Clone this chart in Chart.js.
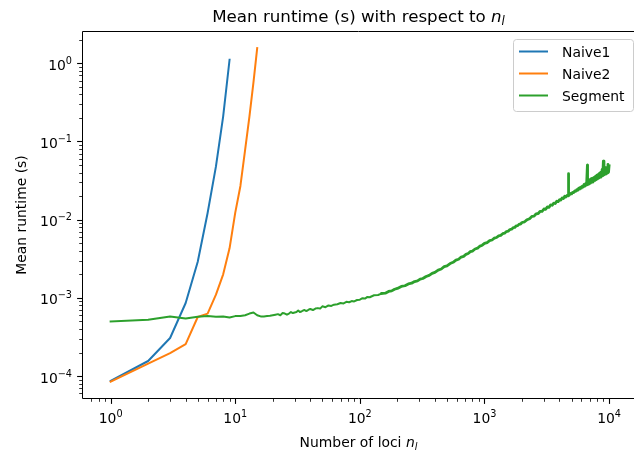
<!DOCTYPE html>
<html>
<head>
<meta charset="utf-8">
<script src="https://cdn.jsdelivr.net/npm/chart.js@4"></script>
<style>
  html, body { margin: 0; padding: 0; background: #fff; }
  #wrap { width: 634px; height: 452px; }
</style>
</head>
<body>
<div id="wrap"><canvas id="runtimeChart" width="634" height="452"></canvas></div>
<script>
// values
const naive1X = [1, 2, 3, 4, 5, 6, 7, 8, 9];
const naive1Y = [8.7e-5, 1.56e-4, 3.07e-4, 8.6e-4, 2.9e-3, 1.22e-2, 4.8e-2, 2.1e-1, 1.11];

const naive2X = [1, 2, 3, 4, 5, 6, 7, 8, 9, 10, 11, 12, 13, 14, 15];
const naive2Y = [8.5e-5, 1.44e-4, 1.97e-4, 2.57e-4, 5.7e-4, 6.3e-4, 1.1e-3, 2.0e-3, 4.3e-3,
                 1.23e-2, 2.7e-2, 7.8e-2, 2.1e-1, 5.7e-1, 1.56];

const segmentX = [
    1, 2, 3, 4, 5, 6, 7, 8, 9, 10, 11, 12, 13, 14, 15, 16, 17, 18, 19, 20,
    21, 22, 23, 24, 25, 26, 27, 28, 29, 30, 31, 32, 33, 34, 35, 36, 37, 38, 39, 40,
    42, 44, 46, 48, 50, 53, 56, 59, 62, 66, 70, 74, 78, 82, 86, 90, 95, 100,
    105, 110, 115, 120, 130, 140, 150, 160, 170, 180, 190, 200, 215, 230, 245, 260,
    275, 290, 305, 320, 340, 360, 380, 400, 425, 450, 475, 500, 530, 560, 590, 620,
    650, 680, 710, 740, 770, 800, 840, 880, 920, 960, 1000, 1050, 1100, 1150, 1200,
    1250, 1300, 1350, 1400, 1450, 1500, 1550, 1600, 1650, 1700, 1750, 1800, 1850,
    1900, 1950, 2000, 2100, 2200, 2300, 2400, 2500, 2600, 2700, 2800, 2900, 3000,
    3100, 3200, 3300, 3400, 3500, 3600, 3700, 3800, 3900, 4000, 4100, 4200, 4300,
    4400, 4500, 4600, 4700, 4720, 4740, 4800, 4900, 5000, 5100, 5200, 5300, 5400,
    5500, 5600, 5700, 5800, 5900, 6000, 6100, 6200, 6300, 6400, 6500, 6600, 6700,
    6720, 6800, 6900, 7000, 7100, 7200, 7300, 7400, 7500, 7600, 7700, 7800, 7900,
    8000, 8100, 8200, 8300, 8400, 8500, 8600, 8700, 8800, 8900, 9000, 9100, 9200,
    9300, 9400, 9500, 9600, 9700, 9800, 9900, 10000
];
const segmentY = [
    5.0e-4, 5.25e-4, 5.8e-4, 5.45e-4, 5.75e-4, 5.85e-4, 5.75e-4, 5.8e-4, 5.6e-4, 5.85e-4,
    5.85e-4, 6.0e-4, 6.3e-4, 6.5e-4, 6.0e-4, 5.8e-4, 5.8e-4, 5.85e-4, 5.9e-4, 6.0e-4,
    6.1e-4, 6.2e-4, 6.0e-4, 6.4e-4, 6.3e-4, 6.1e-4, 6.3e-4, 6.6e-4, 6.4e-4, 6.5e-4,
    6.6e-4, 6.9e-4, 6.6e-4, 6.7e-4, 6.9e-4, 7.0e-4, 6.8e-4, 6.9e-4, 7.1e-4, 7.2e-4,
    7.0e-4, 7.3e-4, 7.4e-4, 7.3e-4, 7.8e-4, 7.6e-4, 8.0e-4, 7.9e-4, 8.2e-4, 8.3e-4,
    8.6e-4, 8.5e-4, 8.9e-4, 8.8e-4, 9.1e-4, 9.0e-4, 9.4e-4, 9.5e-4,
    9.9e-4, 9.8e-4, 1.03e-3, 1.02e-3, 1.08e-3, 1.09e-3, 1.14e-3, 1.15e-3, 1.21e-3,
    1.23e-3, 1.29e-3, 1.32e-3, 1.40e-3, 1.43e-3, 1.51e-3, 1.54e-3,
    1.62e-3, 1.65e-3, 1.74e-3, 1.77e-3, 1.88e-3, 1.94e-3, 2.06e-3, 2.12e-3, 2.27e-3,
    2.34e-3, 2.51e-3, 2.57e-3, 2.75e-3, 2.85e-3, 3.04e-3, 3.12e-3,
    3.33e-3, 3.40e-3, 3.60e-3, 3.69e-3, 3.90e-3, 3.97e-3, 4.22e-3, 4.32e-3, 4.60e-3,
    4.72e-3, 4.98e-3, 5.10e-3, 5.40e-3, 5.50e-3, 5.80e-3,
    5.92e-3, 6.22e-3, 6.30e-3, 6.62e-3, 6.72e-3, 7.05e-3, 7.12e-3, 7.48e-3, 7.55e-3,
    7.90e-3, 7.95e-3, 8.35e-3, 8.40e-3,
    8.78e-3, 8.80e-3, 9.20e-3, 9.40e-3, 1.00e-2, 1.03e-2, 1.10e-2, 1.11e-2, 1.19e-2,
    1.20e-2, 1.28e-2, 1.28e-2, 1.37e-2,
    1.36e-2, 1.46e-2, 1.44e-2, 1.55e-2, 1.53e-2, 1.63e-2, 1.61e-2, 1.72e-2, 1.70e-2,
    1.80e-2, 1.78e-2, 1.90e-2, 1.86e-2,
    1.99e-2, 1.95e-2, 2.04e-2, 2.02e-2, 3.87e-2, 2.04e-2, 2.07e-2, 2.16e-2, 2.14e-2,
    2.24e-2, 2.22e-2, 2.33e-2, 2.30e-2,
    2.42e-2, 2.38e-2, 2.52e-2, 2.46e-2, 2.60e-2, 2.54e-2, 2.69e-2, 2.62e-2, 2.82e-2,
    2.70e-2, 2.90e-2, 2.78e-2, 5.0e-2,
    2.80e-2, 3.12e-2, 2.86e-2, 3.25e-2, 2.94e-2, 3.35e-2, 3.02e-2, 3.40e-2, 3.10e-2,
    3.48e-2, 3.18e-2, 3.60e-2, 3.26e-2,
    3.70e-2, 3.34e-2, 3.78e-2, 3.42e-2, 3.95e-2, 3.50e-2, 4.05e-2, 3.58e-2, 4.40e-2,
    3.66e-2, 5.60e-2, 3.74e-2, 4.70e-2,
    3.82e-2, 4.50e-2, 3.90e-2, 4.65e-2, 3.98e-2, 5.10e-2, 4.06e-2, 4.90e-2
];

const seriesNames = ['Naive1', 'Naive2', 'Segment'];
const seriesColors = ['#1f77b4', '#ff7f0e', '#2ca02c'];

// axis limits and tick labels (powers of ten)
const xRange = [Math.pow(10, -0.2), Math.pow(10, 4.2)];
const yRange = [Math.pow(10, -4.28), Math.pow(10, 0.40)];
const xTickExps = ['0', '1', '2', '3', '4'];
const yTickExps = ['\u22124', '\u22123', '\u22122', '\u22121', '0'];

const FONT = '"DejaVu Sans", sans-serif';

function toPoints(xs, ys) {
    return xs.map((x, i) => ({ x: x, y: ys[i] }));
}

// draws a run of text pieces (normal / italic / sub / sup) one after another
function drawPieces(ctx, pieces, x, y, align) {
    let total = 0;
    pieces.forEach(p => { ctx.font = p.font; total += ctx.measureText(p.text).width; });
    let cx = x;
    if (align === 'center') cx = x - total / 2;
    if (align === 'right') cx = x - total;
    ctx.textAlign = 'left';
    ctx.textBaseline = 'alphabetic';
    pieces.forEach(p => {
        ctx.font = p.font;
        ctx.fillText(p.text, cx, y + (p.dy || 0));
        cx += ctx.measureText(p.text).width;
    });
}

function powLabel(exp) {
    return [
        { text: '10', font: '13.9px ' + FONT },
        { text: exp, font: '9.7px ' + FONT, dy: -6 }
    ];
}

const decorations = {
    id: 'decorations',
    afterDraw(chart) {
        const ctx = chart.ctx;
        const a = chart.chartArea;
        const xs = chart.scales.x;
        const ys = chart.scales.y;
        ctx.save();
        ctx.fillStyle = '#000';
        ctx.strokeStyle = '#000';

        // spines (the right one falls outside the picture)
        ctx.lineWidth = 1;
        ctx.beginPath();
        ctx.moveTo(a.right + 0.5, a.top - 0.5);
        ctx.lineTo(a.left - 0.5, a.top - 0.5);
        ctx.lineTo(a.left - 0.5, a.bottom + 0.5);
        ctx.lineTo(a.right + 0.5, a.bottom + 0.5);
        ctx.stroke();

        // x ticks
        for (let d = -1; d <= 4; d++) {
            for (let k = 1; k <= 9; k++) {
                const v = k * Math.pow(10, d);
                if (v < xRange[0] || v > xRange[1]) continue;
                const px = Math.round(xs.getPixelForValue(v)) + 0.5;
                const len = k === 1 ? 4.9 : 2.8;
                ctx.lineWidth = k === 1 ? 1.1 : 0.8;
                ctx.beginPath();
                ctx.moveTo(px, a.bottom + 1);
                ctx.lineTo(px, a.bottom + 1 + len);
                ctx.stroke();
            }
        }
        // y ticks
        for (let d = -5; d <= 0; d++) {
            for (let k = 1; k <= 9; k++) {
                const v = k * Math.pow(10, d);
                if (v < yRange[0] || v > yRange[1]) continue;
                const py = Math.round(ys.getPixelForValue(v)) + 0.5;
                const len = k === 1 ? 4.9 : 2.8;
                ctx.lineWidth = k === 1 ? 1.1 : 0.8;
                ctx.beginPath();
                ctx.moveTo(a.left - 1, py);
                ctx.lineTo(a.left - 1 - len, py);
                ctx.stroke();
            }
        }

        // tick labels
        xTickExps.forEach(e => {
            const px = xs.getPixelForValue(Math.pow(10, Number(e)));
            drawPieces(ctx, powLabel(e), px, 423, 'center');
        });
        yTickExps.forEach(e => {
            const py = ys.getPixelForValue(Math.pow(10, Number(e.replace('\u2212', '-'))));
            drawPieces(ctx, powLabel(e), 72, py + 6.5, 'right');
        });

        // title
        const mid = (a.left + a.right) / 2;
        drawPieces(ctx, [
            { text: 'Mean runtime (s) with respect to ', font: '16.7px ' + FONT },
            { text: 'n', font: 'italic 16.7px ' + FONT },
            { text: 'l', font: 'italic 11.7px ' + FONT, dy: 3 }
        ], mid, 22, 'center');

        // x axis title
        drawPieces(ctx, [
            { text: 'Number of loci ', font: '13.9px ' + FONT },
            { text: 'n', font: 'italic 13.9px ' + FONT },
            { text: 'l', font: 'italic 9.7px ' + FONT, dy: 2.5 }
        ], mid, 447, 'center');

        // y axis title
        ctx.save();
        ctx.translate(26, (a.top + a.bottom) / 2);
        ctx.rotate(-Math.PI / 2);
        ctx.font = '13.9px ' + FONT;
        ctx.textAlign = 'center';
        ctx.textBaseline = 'alphabetic';
        ctx.fillText('Mean runtime (s)', 0, 0);
        ctx.restore();

        // legend box, upper right
        const bx = 513.5, by = 39.5, bw = 120, bh = 72, r = 3;
        ctx.beginPath();
        ctx.moveTo(bx + r, by);
        ctx.lineTo(bx + bw - r, by);
        ctx.arcTo(bx + bw, by, bx + bw, by + r, r);
        ctx.lineTo(bx + bw, by + bh - r);
        ctx.arcTo(bx + bw, by + bh, bx + bw - r, by + bh, r);
        ctx.lineTo(bx + r, by + bh);
        ctx.arcTo(bx, by + bh, bx, by + bh - r, r);
        ctx.lineTo(bx, by + r);
        ctx.arcTo(bx, by, bx + r, by, r);
        ctx.closePath();
        ctx.fillStyle = 'rgba(255,255,255,0.8)';
        ctx.fill();
        ctx.strokeStyle = '#cccccc';
        ctx.lineWidth = 1;
        ctx.stroke();

        chart.data.datasets.forEach((ds, i) => {
            const rowY = 51.5 + i * 22;
            ctx.strokeStyle = ds.borderColor;
            ctx.lineWidth = 2;
            ctx.beginPath();
            ctx.moveTo(519, rowY);
            ctx.lineTo(548, rowY);
            ctx.stroke();
            ctx.fillStyle = '#000';
            ctx.font = '13.9px ' + FONT;
            ctx.textAlign = 'left';
            ctx.fillText(ds.label, 562, rowY + 5.3);
        });

        ctx.restore();
    }
};

const ctx = document.getElementById('runtimeChart').getContext('2d');
new Chart(ctx, {
    type: 'line',
    data: {
        datasets: [
            { label: seriesNames[0], data: toPoints(naive1X, naive1Y), borderColor: seriesColors[0], order: 3 },
            { label: seriesNames[1], data: toPoints(naive2X, naive2Y), borderColor: seriesColors[1], order: 2 },
            {
                label: seriesNames[2], data: toPoints(segmentX, segmentY), borderColor: seriesColors[2], order: 1,
                // the measured curve gets noisier (a thicker band) for large n
                segment: { borderWidth: s => (s.p0.parsed.x >= 150 ? 2.8 : 2) }
            }
        ]
    },
    options: {
        responsive: false,
        animation: false,
        parsing: true,
        elements: {
            point: { radius: 0, hoverRadius: 0 },
            line: { borderWidth: 2, tension: 0, fill: false, borderJoinStyle: 'round', borderCapStyle: 'square' }
        },
        layout: { padding: { top: 32, right: -11, left: 0, bottom: 0 } },
        scales: {
            x: {
                type: 'logarithmic',
                min: xRange[0],
                max: xRange[1],
                grid: { display: false },
                border: { display: false },
                ticks: { display: false },
                afterFit(scale) { scale.height = 54; }
            },
            y: {
                type: 'logarithmic',
                min: yRange[0],
                max: yRange[1],
                grid: { display: false },
                border: { display: false },
                ticks: { display: false },
                afterFit(scale) { scale.width = 83; }
            }
        },
        plugins: {
            legend: { display: false },
            title: { display: false },
            tooltip: { enabled: false }
        }
    },
    plugins: [decorations]
});
</script>
</body>
</html>
